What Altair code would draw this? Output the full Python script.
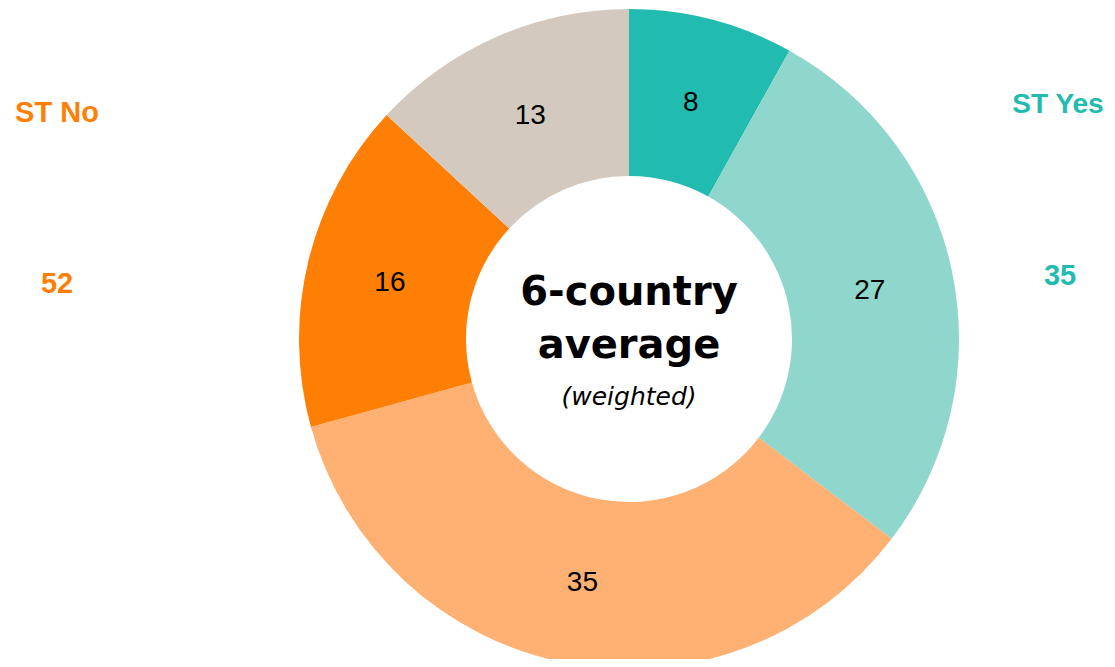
import altair as alt
import pandas as pd

segments = ["ST Yes strong", "ST Yes", "ST No", "ST No strong", "Other"]
values = [8, 27, 35, 16, 13]
colors = ["#21BBB0", "#8FD6CD", "#FFB073", "#FF7F05", "#D4C9BF"]

side_labels = ["ST No", "ST Yes"]
side_totals = ["52", "35"]
side_colors = ["#FF7F05", "#21BBB0"]

df = pd.DataFrame({"segment": segments, "value": values, "idx": list(range(len(values)))})

CX, CY = 621, 331
NUMFONT = "Liberation Sans"
BOLDFONT = "DejaVu Sans"

base = alt.Chart(df).encode(
    theta=alt.Theta("value:Q", stack=True),
    order=alt.Order("idx:Q"),
)

arcs = base.mark_arc(outerRadius=330, innerRadius=163).encode(
    color=alt.Color("segment:N", scale=alt.Scale(domain=segments, range=colors), legend=None),
    x=alt.value(CX), y=alt.value(CY),
)

labels = base.mark_text(fontSize=28, font=NUMFONT, color="black", radius=246,
                        baseline="middle").encode(
    text=alt.Text("value:Q"),
    x=alt.value(CX), y=alt.value(CY + 2),
)

def txt(s, x, y, size, font, color="black", weight="normal", style="normal"):
    return alt.Chart(pd.DataFrame({"t": [s]})).mark_text(
        fontSize=size, font=font, fontWeight=weight, fontStyle=style, color=color,
        align="center", baseline="alphabetic"
    ).encode(text="t:N", x=alt.value(x), y=alt.value(y))

layers = [arcs, labels,
          txt("6-country", CX, 297, 40, BOLDFONT, weight="bold"),
          txt("average", CX, 350, 40, BOLDFONT, weight="bold"),
          txt("(weighted)", CX, 397, 25, BOLDFONT, style="italic"),
          txt(side_labels[0], 49, 114, 29, NUMFONT, side_colors[0], "bold"),
          txt(side_totals[0], 49, 285, 29, NUMFONT, side_colors[0], "bold"),
          txt(side_labels[1], 1050, 105, 28, NUMFONT, side_colors[1], "bold"),
          txt(side_totals[1], 1052, 277, 29, NUMFONT, side_colors[1], "bold")]

chart = alt.layer(*layers).properties(
    width=1099, height=651,
    autosize=alt.AutoSizeParams(type="fit", contains="padding"),
    padding=0,
).configure_view(stroke=None)

chart.save("out.html", embed_options={"renderer": "svg", "actions": False})
